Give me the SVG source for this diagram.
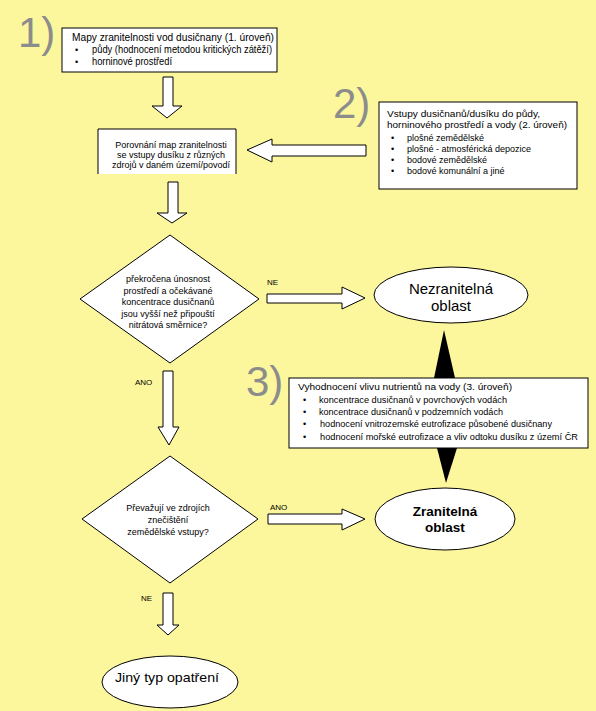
<svg xmlns="http://www.w3.org/2000/svg" width="596" height="711" viewBox="0 0 596 711">
<style>
.t{font-family:"Liberation Sans",Arial,sans-serif;font-size:9px;fill:#000;font-weight:normal}
.b1{font-size:10px}
.c{text-anchor:middle}
.big{font-size:15px}
.mid{font-size:13.5px}
.bold{font-weight:bold}
.num{font-family:"Liberation Sans",Arial,sans-serif;font-size:42px;fill:#8c8c8c}
.box{fill:#fff;stroke:#000;stroke-width:1}
.arr{fill:#fff;stroke:#000;stroke-width:1}
.tri{fill:#000}
.lab{font-family:"Liberation Sans",Arial,sans-serif;font-size:8px;fill:#000}
</style>
<rect width="596" height="711" fill="#FCF79C"/>
<text class="num" x="18" y="47">1)</text>
<text class="num" x="333" y="118">2)</text>
<text class="num" x="246" y="396">3)</text>
<g id="box1">
<rect class="box" x="62" y="28" width="215" height="44"/>
<text class="t b1" x="72" y="41" textLength="202" lengthAdjust="spacingAndGlyphs">Mapy zranitelnosti vod dusičnany (1. úroveň)</text>
<text class="t" x="75" y="53">•</text><text class="t b1" x="92" y="53" textLength="180" lengthAdjust="spacingAndGlyphs">půdy (hodnocení metodou kritických zátěží)</text>
<text class="t" x="75" y="65">•</text><text class="t b1" x="92" y="65" textLength="80" lengthAdjust="spacingAndGlyphs">horninové prostředí</text>
</g>
<g id="box2">
<rect x="98" y="129" width="138" height="45" fill="#fff"/>
<path d="M98,174 V129 H236 V174" fill="none" stroke="#000"/>
<text class="t c" x="171" y="148">Porovnání map zranitelnosti</text>
<text class="t c" x="171" y="158">se vstupy dusíku z různých</text>
<text class="t c" x="171" y="168">zdrojů v daném území/povodí</text>
</g>
<g id="box3">
<rect class="box" x="379" y="102" width="198" height="87"/>
<text class="t" x="387" y="117" textLength="153" lengthAdjust="spacingAndGlyphs">Vstupy dusičnanů/dusíku do půdy,</text>
<text class="t" x="387" y="128" textLength="180" lengthAdjust="spacingAndGlyphs">horninového prostředí a vody (2. úroveň)</text>
<text class="t" x="391" y="141">•</text><text class="t" x="407" y="141">plošné zemědělské</text>
<text class="t" x="391" y="152">•</text><text class="t" x="407" y="152">plošné - atmosférická depozice</text>
<text class="t" x="391" y="163">•</text><text class="t" x="407" y="163">bodové zemědělské</text>
<text class="t" x="391" y="174">•</text><text class="t" x="407" y="174">bodové komunální a jiné</text>
</g>
<g id="decision1">
<polygon class="box" points="170,235 259,299 170,363 80,299"/>
<text class="t c" x="168" y="282">překročena únosnost</text>
<text class="t c" x="168" y="294">prostředí a očekávané</text>
<text class="t c" x="168" y="305">koncentrace dusičnanů</text>
<text class="t c" x="168" y="317">jsou vyšší než připouští</text>
<text class="t c" x="168" y="328">nitrátová směrnice?</text>
</g>
<g id="nezranitelna">
<ellipse class="box" cx="451" cy="295" rx="77" ry="28"/>
<text class="t c big" x="451" y="294">Nezranitelná</text>
<text class="t c big" x="451" y="311">oblast</text>
</g>
<g id="box4">
<rect class="box" x="289" y="378" width="299" height="70"/>
<text class="t" x="298" y="390" textLength="214" lengthAdjust="spacingAndGlyphs">Vyhodnocení vlivu nutrientů na vody (3. úroveň)</text>
<text class="t" x="303" y="403">•</text><text class="t" x="319" y="403" textLength="188" lengthAdjust="spacingAndGlyphs">koncentrace dusičnanů v povrchových vodách</text>
<text class="t" x="303" y="415">•</text><text class="t" x="319" y="415" textLength="184" lengthAdjust="spacingAndGlyphs">koncentrace dusičnanů v podzemních vodách</text>
<text class="t" x="303" y="427">•</text><text class="t" x="320" y="427" textLength="232" lengthAdjust="spacingAndGlyphs">hodnocení vnitrozemské eutrofizace působené dusičnany</text>
<text class="t" x="303" y="440">•</text><text class="t" x="320" y="440" textLength="258" lengthAdjust="spacingAndGlyphs">hodnocení mořské eutrofizace a vliv odtoku dusíku z území ČR</text>
</g>
<g id="decision2">
<polygon class="box" points="170,456 258,519 170,583 82,519"/>
<text class="t c" x="168" y="511">Převažují ve zdrojích</text>
<text class="t c" x="168" y="523">znečištění</text>
<text class="t c" x="168" y="535">zemědělské vstupy?</text>
</g>
<g id="zranitelna">
<ellipse class="box" cx="445" cy="519" rx="70" ry="31"/>
<text class="t c mid bold" x="445" y="516">Zranitelná</text>
<text class="t c mid bold" x="445" y="532">oblast</text>
</g>
<g id="jiny">
<ellipse class="box" cx="170" cy="682" rx="68" ry="26"/>
<text class="t mid" x="115" y="682" textLength="104" lengthAdjust="spacingAndGlyphs">Jiný typ opatření</text>
</g>
<g id="connectors">
<polygon class="arr" points="163,77 173,77 173,106 182,106 167,118 152,106 163,106"/>
<polygon class="arr" points="168,182 178,182 178,213 187,213 172,223 157,213 168,213"/>
<polygon class="arr" points="366,145 366,156 272,156 272,162 247,150 272,139 272,145"/>
<polygon class="arr" points="267,294 342,294 342,287 365,298 342,309 342,303 267,303"/>
<polygon class="arr" points="268,514 342,514 342,509 365,519 342,530 342,524 268,524"/>
<polygon class="arr" points="163,371 173,371 173,427 179,427 169,445 158,427 163,427"/>
<polygon class="arr" points="163,593 173,593 173,625 179,625 168,635 157,625 163,625"/>
<polygon class="tri" points="444,330 455,378 434,378"/>
<polygon class="tri" points="437,448 457,448 446,483"/>
<text class="lab" x="267" y="285">NE</text>
<text class="lab" x="135" y="385">ANO</text>
<text class="lab" x="270" y="510">ANO</text>
<text class="lab" x="141" y="601">NE</text>
</g>
</svg>
